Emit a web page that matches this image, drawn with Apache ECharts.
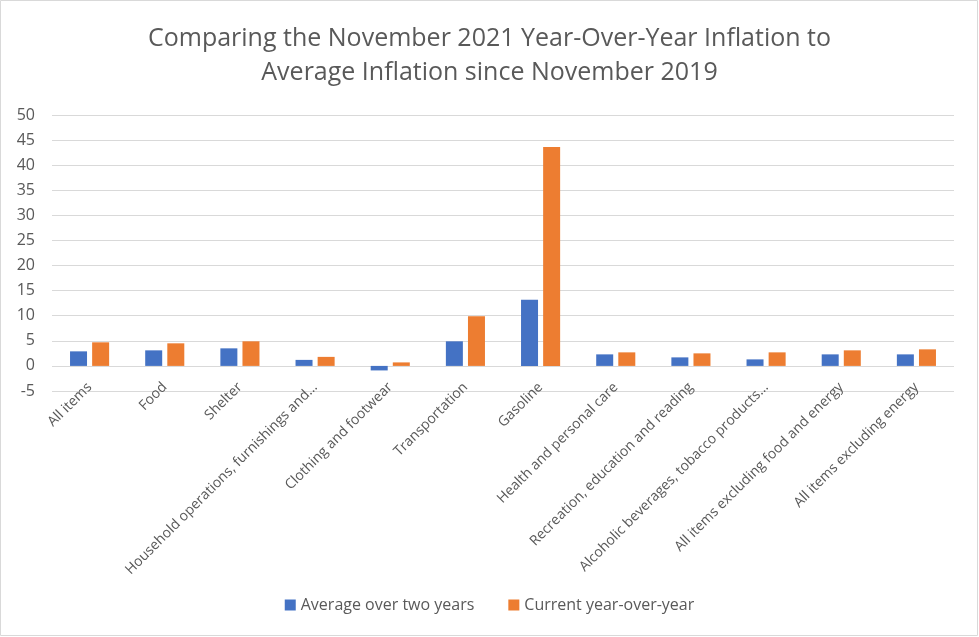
<!DOCTYPE html>
<html>
<head>
<meta charset="utf-8">
<script src="https://cdn.jsdelivr.net/npm/echarts@6/dist/echarts.min.js"></script>
<style>
html,body{margin:0;padding:0;background:#fff;}
#chart{width:979px;height:637px;}
</style>
</head>
<body>
<div id="chart"></div>
<script>
const categories = ["All items","Food","Shelter","Household operations, furnishings and…","Clothing and footwear","Transportation","Gasoline","Health and personal care","Recreation, education and reading","Alcoholic beverages, tobacco products…","All items excluding food and energy","All items excluding energy"];
const avgTwoYears = [2.9, 3.1, 3.5, 1.2, -0.9, 4.9, 13.2, 2.3, 1.7, 1.3, 2.3, 2.3];
const currentYoY = [4.7, 4.5, 4.9, 1.8, 0.7, 9.9, 43.6, 2.7, 2.5, 2.7, 3.1, 3.3];
const yTicks = {min: -5, max: 50, interval: 5};
const titleText = "Comparing the November 2021 Year-Over-Year Inflation to\nAverage Inflation since November 2019";

const chart = echarts.init(document.getElementById('chart'));
const font = "'Open Sans', 'Noto Sans', sans-serif";
chart.setOption({
  backgroundColor: '#fff',
  animation: false,
  textStyle: {fontFamily: font},
  title: {
    text: titleText,
    left: 'center',
    top: 17,
    textStyle: {fontFamily: font, fontSize: 25, fontWeight: 'normal', color: '#595959', lineHeight: 34}
  },
  graphic: [{
    type: 'rect', shape: {x: 0.5, y: 0.5, width: 977, height: 635},
    style: {fill: 'none', stroke: '#d9d9d9', lineWidth: 1}, silent: true
  }],
  legend: {
    bottom: 19,
    left: 'center',
    itemWidth: 11, itemHeight: 11, itemGap: 34,
    icon: 'rect',
    textStyle: {fontFamily: font, fontSize: 16, color: '#595959'},
    data: ['Average over two years', 'Current year-over-year']
  },
  grid: {left: 52, right: 25, top: 115, bottom: 246, containLabel: false},
  xAxis: {
    type: 'category',
    data: categories,
    axisLine: {show: false, onZero: false},
    axisTick: {show: false},
    axisLabel: {rotate: 45, interval: 0, fontSize: 14, color: '#595959', fontFamily: font, margin: -6}
  },
  yAxis: {
    type: 'value',
    min: yTicks.min, max: yTicks.max, interval: yTicks.interval,
    axisLine: {show: false},
    axisTick: {show: false},
    axisLabel: {fontSize: 16, color: '#595959', fontFamily: font, margin: 17},
    splitLine: {lineStyle: {color: '#d9d9d9', width: 1}}
  },
  series: [
    {name: 'Average over two years', type: 'bar', data: avgTwoYears, barWidth: 17, barGap: '30%', itemStyle: {color: '#4472C4'}},
    {name: 'Current year-over-year', type: 'bar', data: currentYoY, barWidth: 17, itemStyle: {color: '#ED7D31'}}
  ]
});
</script>
</body>
</html>
